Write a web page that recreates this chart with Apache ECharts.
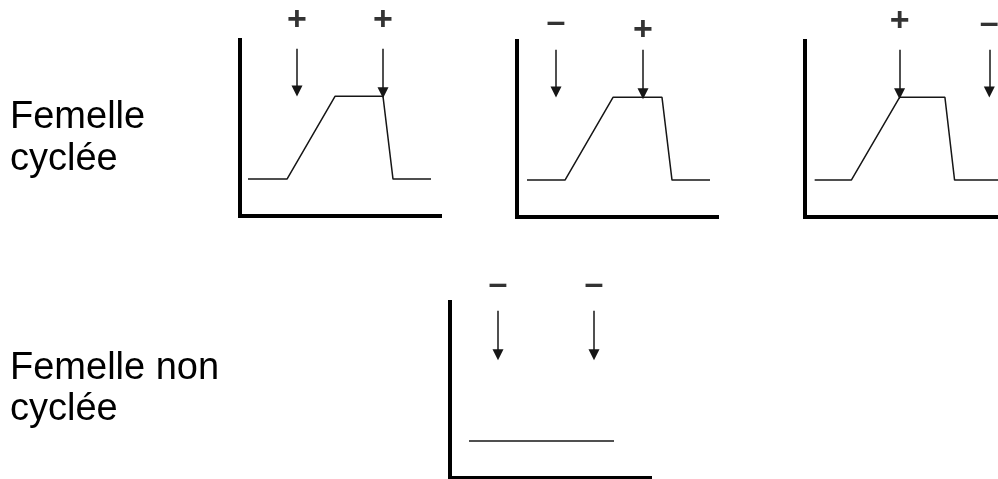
<!DOCTYPE html>
<html>
<head>
<meta charset="utf-8">
<script src="https://cdn.jsdelivr.net/npm/echarts@6/dist/echarts.min.js"></script>
<style>
  html, body { margin: 0; padding: 0; background: #fff; }
  #chart { width: 998px; height: 479px; }
</style>
</head>
<body>
<div id="chart"></div>
<script>
// courbes (x: temps 0-20, y: niveau 0-10)
const curveA = [[0.8, 2.1], [4.7, 2.1], [9.5, 6.8], [14.3, 6.8], [15.3, 2.1], [19.1, 2.1]]
const curveB = [[1.0, 2.1], [4.8, 2.1], [9.6, 6.8], [14.5, 6.8], [15.5, 2.1], [19.3, 2.1]]
const curveC = [[1.0, 2.1], [4.8, 2.1], [9.8, 6.8], [14.5, 6.8], [15.5, 2.1], [20.0, 2.1]]
const curveD = [[1.9, 2.1], [16.4, 2.1]]

// flèches : [x, y haut, y bas]
const arrowsA = [[5.7, 9.5, 7.1], [14.3, 9.5, 7.0]]
const arrowsB = [[3.9, 9.5, 7.1], [12.6, 9.5, 7.0]]
const arrowsC = [[9.8, 9.5, 7.0], [19.1, 9.5, 7.1]]
const arrowsD = [[4.8, 9.5, 7.0], [14.4, 9.5, 7.0]]

// signes au-dessus des flèches : [x, y, texte]
const signsA = [[5.7, 11.1, '+'], [14.3, 11.1, '+']]
const signsB = [[3.9, 11.05, '–'], [12.6, 10.6, '+']]
const signsC = [[9.8, 11.1, '+'], [19.1, 11.0, '–']]
const signsD = [[4.8, 11.0, '–'], [14.4, 11.0, '–']]

const rowLabels = ['Femelle\ncyclée', 'Femelle non\ncyclée']

let chart = echarts.init(document.getElementById('chart'))

let grids = [
  {left: 240, top: 40, width: 200, height: 176},
  {left: 517, top: 41, width: 200, height: 176},
  {left: 805, top: 41, width: 200, height: 176},
  {left: 450, top: 302, width: 200, height: 176}
]

let axisLine = {
  show: true,
  lineStyle: {color: '#000', width: 4, cap: 'square'}
}

function makeAxis (idx, max) {
  return {
    type: 'value',
    gridIndex: idx,
    min: 0,
    max: max,
    axisLine: axisLine,
    axisTick: {show: false},
    axisLabel: {show: false},
    splitLine: {show: false}
  }
}

function makeSeries (idx, curve, arrows, signs) {
  return [{
    type: 'line',
    xAxisIndex: idx,
    yAxisIndex: idx,
    data: curve,
    symbol: 'none',
    silent: true,
    lineStyle: {color: '#161616', width: 1.5},
    markLine: {
      silent: true,
      symbol: ['none', 'triangle'],
      symbolSize: 11,
      label: {show: false},
      lineStyle: {color: '#161616', width: 1.5, type: 'solid'},
      data: arrows.map(a => [{coord: [a[0], a[1]]}, {coord: [a[0], a[2]]}])
    }
  }, {
    type: 'scatter',
    xAxisIndex: idx,
    yAxisIndex: idx,
    data: signs,
    symbolSize: 0,
    clip: false,
    silent: true,
    label: {
      show: true,
      position: 'inside',
      formatter: p => p.value[2],
      fontFamily: 'Liberation Sans',
      fontWeight: 'bold',
      fontSize: 34,
      color: '#000'
    }
  }]
}

let option = {
  animation: false,
  backgroundColor: '#fff',
  title: [{
    text: rowLabels[0],
    left: 10,
    top: 97,
    padding: 0,
    textStyle: {fontFamily: 'Liberation Sans', fontWeight: 'normal', fontSize: 38, lineHeight: 42, color: '#000'}
  }, {
    text: rowLabels[1],
    left: 10,
    top: 348,
    padding: 0,
    textStyle: {fontFamily: 'Liberation Sans', fontWeight: 'normal', fontSize: 38, lineHeight: 41, color: '#000'}
  }],
  grid: grids,
  xAxis: grids.map((g, i) => makeAxis(i, 20)),
  yAxis: grids.map((g, i) => makeAxis(i, 10)),
  series: [].concat(
    makeSeries(0, curveA, arrowsA, signsA),
    makeSeries(1, curveB, arrowsB, signsB),
    makeSeries(2, curveC, arrowsC, signsC),
    makeSeries(3, curveD, arrowsD, signsD)
  )
}

chart.setOption(option)
</script>
</body>
</html>
